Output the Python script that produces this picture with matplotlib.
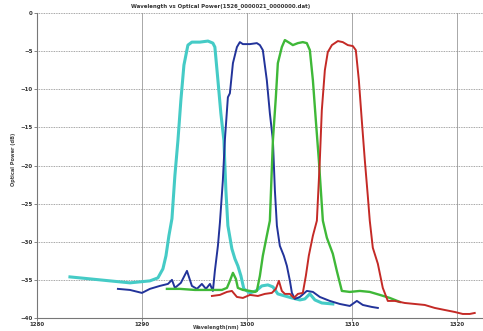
import numpy as np
import matplotlib
matplotlib.use("Agg")
import matplotlib.pyplot as plt

# Wavelength (nm) / optical power (dB)
cyan_wl = [1283.14, 1285.05, 1286.95, 1288.86, 1289.81, 1290.76, 1291.52, 1292.0, 1292.29, 1292.57,
           1292.86, 1293.14, 1293.43, 1293.71, 1294.0, 1294.38, 1294.76, 1295.52, 1296.29, 1296.76,
           1296.95, 1297.24, 1297.52, 1297.81, 1298.0, 1298.19, 1298.57, 1298.86, 1299.14, 1299.43,
           1299.71, 1300.29, 1300.86, 1301.43, 1302.0, 1302.48, 1302.95, 1303.62, 1304.29, 1305.05,
           1305.52, 1306.0, 1306.48, 1307.14, 1308.19]
cyan_db = [-34.61, -34.87, -35.13, -35.39, -35.26, -35.13, -34.74, -33.55, -31.84, -29.21,
           -26.97, -21.32, -16.71, -11.45, -6.84, -4.21, -3.82, -3.82, -3.68, -3.95,
           -4.47, -8.82, -13.16, -16.71, -23.29, -27.89, -30.92, -32.24, -33.16, -34.47,
           -36.18, -36.71, -36.45, -35.79, -35.66, -35.92, -36.84, -37.11, -37.37, -37.63,
           -37.5, -36.84, -37.63, -38.03, -38.16]

blue_wl = [1287.71, 1288.86, 1290.0, 1290.76, 1291.71, 1292.48, 1292.86, 1293.14, 1293.71, 1294.29,
           1294.76, 1295.24, 1295.71, 1296.10, 1296.48, 1296.76, 1296.95, 1297.24, 1297.43, 1297.71,
           1297.90, 1298.19, 1298.38, 1298.67, 1299.05, 1299.33, 1299.62, 1300.29, 1300.95, 1301.24,
           1301.52, 1301.90, 1302.19, 1302.48, 1302.67, 1302.86, 1303.14, 1303.52, 1303.81, 1304.10,
           1304.29, 1304.57, 1305.05, 1305.71, 1306.29, 1306.95, 1307.90, 1308.86, 1309.81, 1310.48,
           1311.05, 1311.90, 1312.48]
blue_db = [-36.18, -36.32, -36.71, -36.18, -35.79, -35.53, -35.0, -36.05, -35.39, -33.82,
           -35.79, -36.18, -35.53, -36.18, -35.53, -36.45, -33.82, -30.53, -27.5, -21.97,
           -16.71, -11.05, -10.53, -6.58, -4.47, -3.82, -4.08, -4.08, -3.95, -4.21,
           -4.87, -8.82, -13.16, -16.71, -23.29, -27.89, -30.53, -31.84, -33.16, -35.13,
           -36.71, -37.5, -37.24, -36.45, -36.58, -37.24, -37.76, -38.16, -38.42, -37.76,
           -38.29, -38.55, -38.68]

green_wl = [1292.38, 1293.62, 1295.05, 1296.48, 1297.62, 1298.10, 1298.38, 1298.67, 1298.95, 1299.14,
            1299.62, 1300.29, 1300.76, 1300.95, 1301.24, 1301.52, 1301.90, 1302.19, 1302.48, 1302.76,
            1302.95, 1303.33, 1303.62, 1304.10, 1304.38, 1304.86, 1305.33, 1305.71, 1306.0, 1306.29,
            1306.57, 1306.86, 1307.05, 1307.24, 1307.62, 1308.19, 1308.57, 1309.05, 1309.81, 1310.76,
            1311.71, 1312.67, 1313.62, 1314.57]
green_db = [-36.18, -36.18, -36.32, -36.32, -36.32, -36.05, -35.13, -34.08, -34.87, -36.05,
            -36.32, -36.45, -36.58, -36.45, -34.47, -31.84, -29.21, -27.24, -16.71, -11.05,
            -6.58, -4.47, -3.55, -3.95, -4.21, -3.95, -3.82, -3.95, -4.87, -8.82,
            -14.08, -19.34, -23.29, -27.24, -29.47, -31.58, -33.82, -36.45, -36.58, -36.45,
            -36.58, -36.97, -37.37, -37.89]

red_wl = [1296.67, 1297.43, 1298.10, 1298.57, 1299.05, 1299.62, 1300.29, 1301.05, 1301.71, 1302.38,
          1302.76, 1303.05, 1303.33, 1303.62, 1304.10, 1304.48, 1304.86, 1305.33, 1305.62, 1305.90,
          1306.29, 1306.67, 1306.95, 1307.14, 1307.43, 1307.71, 1308.10, 1308.67, 1309.14, 1309.62,
          1310.10, 1310.38, 1310.67, 1310.95, 1311.24, 1311.52, 1311.71, 1312.0, 1312.48, 1312.95,
          1313.43, 1314.10, 1315.05, 1316.0, 1316.95, 1317.90, 1318.86, 1319.81, 1320.57, 1321.24,
          1321.71]
red_db = [-37.11, -36.97, -36.58, -36.45, -37.24, -37.37, -36.97, -37.11, -36.84, -36.71,
          -36.18, -35.13, -36.45, -36.84, -36.84, -37.37, -36.84, -36.71, -34.47, -31.84,
          -29.21, -27.24, -19.34, -12.76, -7.5, -5.13, -4.21, -3.68, -3.82, -4.21,
          -4.34, -4.87, -8.82, -14.08, -19.34, -23.95, -27.24, -30.79, -32.89, -36.05,
          -37.76, -37.76, -38.03, -38.16, -38.29, -38.68, -38.95, -39.21, -39.47, -39.47,
          -39.34]

x_ticks = [1280, 1290, 1300, 1310, 1320]
y_ticks = [0, -5, -10, -15, -20, -25, -30, -35, -40]

fig = plt.figure(figsize=(4.83, 3.31), dpi=100)
ax = fig.add_axes([37 / 483, 13 / 331, 1 - 37 / 483, 1 - 26 / 331])

ax.plot(cyan_wl, cyan_db, color='#45cbc6', lw=2.2, solid_joinstyle='round')
ax.plot(blue_wl, blue_db, color='#22339a', lw=1.4, solid_joinstyle='round')
ax.plot(green_wl, green_db, color='#3fb838', lw=1.7, solid_joinstyle='round')
ax.plot(red_wl, red_db, color='#c42a26', lw=1.4, solid_joinstyle='round')

ax.set_xlim(1280, 1322.5)
ax.set_ylim(-40, 0)
ax.set_xticks(x_ticks)
ax.set_yticks(y_ticks)
ax.tick_params(labelsize=4.0, length=2, width=0.5, color='#555555', pad=1.0)
for lab in ax.get_xticklabels() + ax.get_yticklabels():
    lab.set_fontweight('bold')
    lab.set_color('#333333')

# grid: solid verticals, dotted horizontals
ax.xaxis.grid(True, color='#9a9a9a', linestyle='-', linewidth=0.6)
ax.yaxis.grid(True, color='#888888', linestyle=(0, (1, 1)), linewidth=0.6)
ax.set_axisbelow(True)

ax.spines['top'].set_visible(False)
ax.spines['right'].set_visible(False)
ax.spines['left'].set_color('#777777')
ax.spines['bottom'].set_color('#777777')
ax.spines['left'].set_linewidth(0.8)
ax.spines['bottom'].set_linewidth(0.8)

fig.text(221 / 483, 1 - 6 / 331, "Wavelength vs Optical Power(1526_0000021_0000000.dat)",
         ha='center', va='center', fontsize=3.9, fontweight='bold', color='#333333')
fig.text(216 / 483, 1 - 327.5 / 331, "Wavelength(nm)", ha='center', va='center',
         fontsize=3.6, fontweight='bold', color='#444444')
fig.text(14 / 483, 1 - 159 / 331, "Optical Power (dB)", ha='center', va='center',
         rotation=90, fontsize=3.6, fontweight='bold', color='#444444')

fig.savefig("out.png", dpi=100)
